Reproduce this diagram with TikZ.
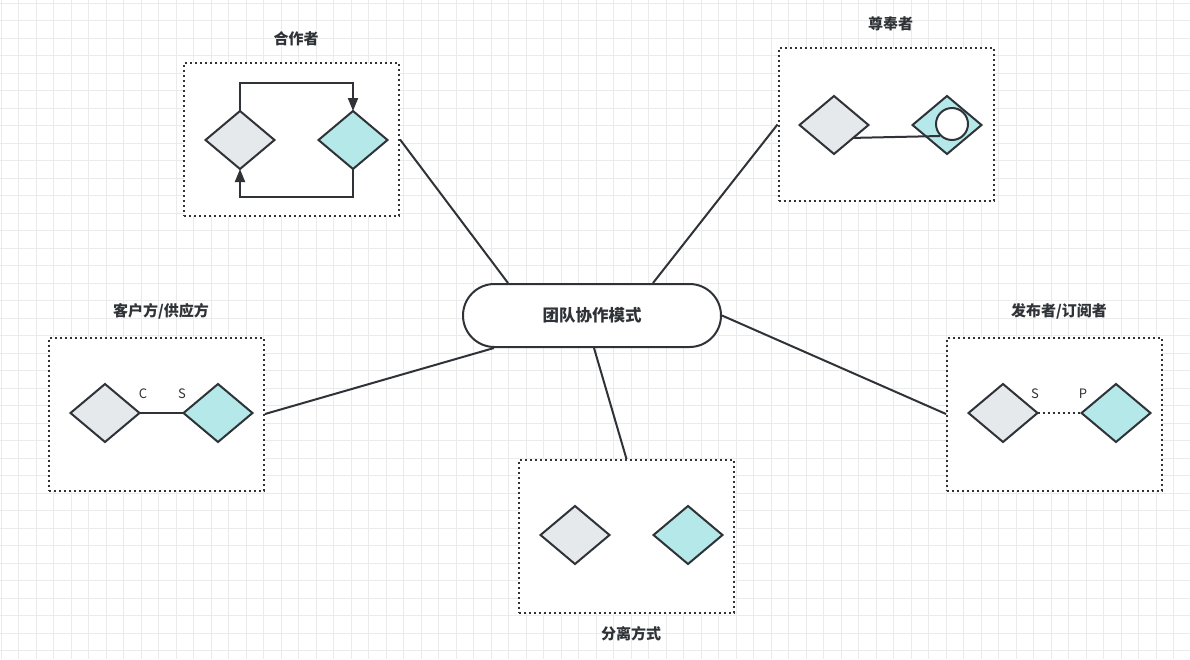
\documentclass[tikz,border=0pt]{standalone}
\usepackage{fontspec}
\setmainfont{Noto Sans CJK SC}
\usetikzlibrary{positioning, arrows.meta, shapes.geometric}
\definecolor{inkgray}{HTML}{2F3337}
\definecolor{roleA}{HTML}{E6E9EC}
\definecolor{roleB}{HTML}{B5E8E8}
\definecolor{gridgray}{HTML}{EBEBEB}

\begin{document}
\begin{tikzpicture}[x=1pt, y=-1pt,
		% Define styles for the nodes
		hub/.style={
			rectangle, rounded corners=31.5pt, draw=inkgray, fill=white,
			line width=2pt, minimum width=258pt, minimum height=63pt,
			font=\fontsize{16.5}{18}\selectfont\bfseries, text=inkgray
		},
		groupbox/.style={
			rectangle, draw=inkgray, fill=white, line width=2pt,
			dash pattern=on 2pt off 3pt, minimum width=215pt, minimum height=153pt
		},
		grouptitle/.style={
			font=\fontsize{15}{17}\selectfont\bfseries, text=inkgray, inner sep=0pt
		},
		roleone/.style={
			diamond, draw=inkgray, fill=roleA, line width=2pt,
			minimum width=69pt, minimum height=58pt, inner sep=0pt, outer sep=0pt
		},
		roletwo/.style={roleone, fill=roleB},
		tag/.style={font=\fontsize{13}{15}\selectfont, text=inkgray, inner sep=0pt},
		link/.style={draw=inkgray, line width=2pt},
		flow/.style={link, -{Triangle[length=13pt, width=10pt]}},
		gridline/.style={draw=gridgray, line width=1pt}
		]
		
		\useasboundingbox (0,0) rectangle (1190,659);
		
		% Background grid
		\fill[white] (0,0) rectangle (1190,659);
		\foreach \gx in {0,...,67}
			\draw[gridline] ({1+17.5*\gx},0) -- ({1+17.5*\gx},659);
		\foreach \gy in {0,...,37}
			\draw[gridline] (0,{3.3+17.5*\gy}) -- (1190,{3.3+17.5*\gy});
		
		% Define the central node
		\node[hub] (hub) at (592,315.5) {团队协作模式};
		
		% Define the surrounding groups
		\node[groupbox] (coop) at (291.5,139.5) {};
		\node[groupbox] (zun) at (886,124.5) {};
		\node[groupbox] (cs) at (156.5,414) {};
		\node[groupbox] (ps) at (1054.5,414) {};
		\node[groupbox] (sep) at (626.5,536.5) {};
		
		\node[grouptitle] (coopT) at ([xshift=4.5pt,yshift=23pt]coop.north) {合作者};
		\node[grouptitle] (zunT) at ([xshift=4.5pt,yshift=23pt]zun.north) {尊奉者};
		\node[grouptitle] (csT) at ([xshift=4.5pt,yshift=25pt]cs.north) {客户方/供应方};
		\node[grouptitle] (psT) at ([xshift=4.5pt,yshift=25pt]ps.north) {发布者/订阅者};
		\node[grouptitle] (sepT) at ([xshift=4.5pt,yshift=-20pt]sep.south) {分离方式};
		
		% Partners
		\node[roleone] (coopA) at (240,140) {};
		\node[roletwo, right=44pt of coopA] (coopB) {};
		\draw[flow] (coopA.north) -- ++(0,-28) -| (coopB.north);
		\draw[flow] (coopB.south) -- ++(0,28) -| (coopA.south);
		
		% Conformist
		\node[roleone] (zunA) at (834,125) {};
		\node[roletwo, right=44pt of zunA] (zunB) {};
		\node[circle, draw=inkgray, fill=white, line width=2pt, minimum size=32pt,
			inner sep=0pt] (zunC) at ([xshift=5pt,yshift=1pt]zunB.center) {};
		\draw[link] (zunA.-34) -- (zunC.225);
		
		% Customer / supplier
		\node[roleone] (csA) at (105,413) {};
		\node[roletwo, right=44pt of csA] (csB) {};
		\draw[link] (csA) -- (csB);
		\node[tag] at ([xshift=3.5pt,yshift=19pt]csA.east) {C};
		\node[tag] at ([xshift=-1.5pt,yshift=19pt]csB.west) {S};
		
		% Publisher / subscriber
		\node[roleone] (psA) at (1003,413) {};
		\node[roletwo, right=44pt of psA] (psB) {};
		\draw[link, dash pattern=on 2pt off 3pt] (psA) -- (psB);
		\node[tag] at ([xshift=-2.5pt,yshift=19pt]psA.east) {S};
		\node[tag] at ([xshift=1.5pt,yshift=19pt]psB.west) {P};
		
		% Separate ways
		\node[roleone] (sepA) at (575,535) {};
		\node[roletwo, right=44pt of sepA] (sepB) {};
		
		% Draw connections from the hub to the groups
		\draw[link] ([xshift=-84pt]hub.north) -- (coop.east);
		\draw[link] ([xshift=61pt]hub.north) -- (zun.west);
		\draw[link] ([xshift=-98pt]hub.south) -- (cs.east);
		\draw[link] (hub.east) -- (ps.west);
		\draw[link] ([xshift=2pt]hub.south) -- (sep.north);
		
	\end{tikzpicture}
\end{document}
